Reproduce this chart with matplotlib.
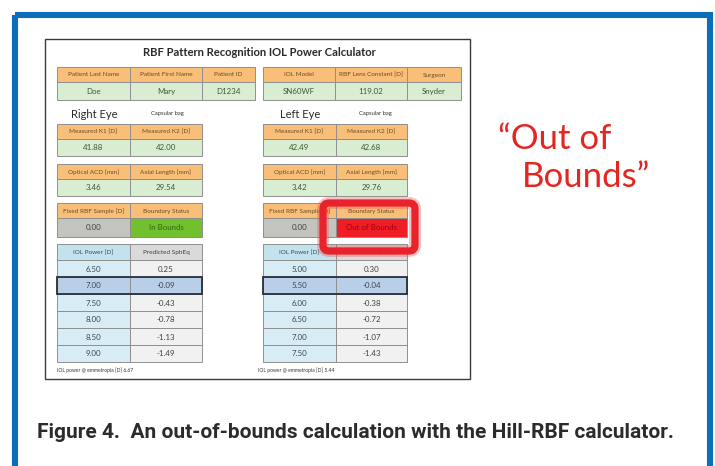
import matplotlib
matplotlib.use('Agg')
import matplotlib.pyplot as plt
from matplotlib.patches import Rectangle, FancyBboxPatch

# ---------------- data ----------------
title = "RBF Pattern Recognition IOL Power Calculator"
patient_headers = ["Patient Last Name", "Patient First Name", "Patient ID"]
patient_values = ["Doe", "Mary", "D1234"]
lens_headers = ["IOL Model", "RBF Lens Constant [D]", "Surgeon"]
lens_values = ["SN60WF", "119.02", "Snyder"]
eye_labels = ["Right Eye", "Left Eye"]
placement = "Capsular bag"
k_headers = ["Measured K1 [D]", "Measured K2 [D]"]
right_k = [41.88, 42.00]
left_k = [42.49, 42.68]
bio_headers = ["Optical ACD [mm]", "Axial Length [mm]"]
right_bio = [3.46, 29.54]
left_bio = [3.42, 29.76]
status_headers = ["Fixed RBF Sample [D]", "Boundary Status"]
fixed_rbf = [0.00, 0.00]
boundary_status = ["In Bounds", "Out of Bounds"]
iol_headers = ["IOL Power [D]", "Predicted SphEq"]
right_iol_power = [6.50, 7.00, 7.50, 8.00, 8.50, 9.00]
right_sph_eq = [0.25, -0.09, -0.43, -0.78, -1.13, -1.49]
left_iol_power = [5.00, 5.50, 6.00, 6.50, 7.00, 7.50]
left_sph_eq = [0.30, -0.04, -0.38, -0.72, -1.07, -1.43]
selected_row = [1, 1]
emmetropia = [6.67, 5.44]
callout_lines = ["\u201cOut of", "Bounds\u201d"]
caption = "Figure 4.  An out-of-bounds calculation with the Hill-RBF calculator."

# ---------------- styling ----------------
FONT = ['Lato', 'DejaVu Sans']
ORANGE = '#f9be78'
GREEN = '#d9edd2'
GREY = '#c4c4be'
INB = '#72c02e'
OUTB = '#ee1d26'
BLUEH = '#c2e3ee'
GREYH = '#dadada'
BLUEC = '#d8ecf5'
GREYC = '#f1f1f1'
SEL = '#b9cfe8'
EDGE = '#8f8f8f'
HTXT = '#6b4b22'
DTXT = '#3d5a2c'
BTXT = '#3b4654'
HFS = 4.6
DFS = 5.7

W, H = 715, 466
fig = plt.figure(figsize=(7.15, 4.66), dpi=100)
ax = fig.add_axes([0, 0, 1, 1])
ax.set_xlim(0, W)
ax.set_ylim(H, 0)
ax.axis('off')


def cell(x0, x1, y0, y1, fc, text, tc, fs, ec=EDGE, lw=0.7, z=2):
    ax.add_patch(Rectangle((x0, y0), x1 - x0, y1 - y0, facecolor=fc,
                           edgecolor=ec, lw=lw, zorder=z))
    ax.text((x0 + x1) / 2, (y0 + y1) / 2 + 0.5, text, ha='center', va='center',
            color=tc, fontsize=fs, family=FONT, zorder=z + 1)


def two_row_table(xs, y0, y1, y2, headers, values, vcolors, tcolors):
    for i, h in enumerate(headers):
        cell(xs[i], xs[i + 1], y0, y1, ORANGE, h, HTXT, HFS)
    for i, v in enumerate(values):
        cell(xs[i], xs[i + 1], y1, y2, vcolors[i], v, tcolors[i], DFS)


# blue frame
ax.add_patch(Rectangle((15, 15), 695, 520, fill=False, edgecolor='#0d6db6',
                       lw=4.4, zorder=1))

# spreadsheet box
ax.add_patch(Rectangle((45, 39), 425, 340, facecolor='white', edgecolor='#3a3a3a',
                       lw=1.0, zorder=1))
ax.text(259, 53, title, ha='center', va='center', fontsize=8.1, fontweight='bold',
        family=FONT, color='#2a2a2a')

# patient / lens tables
two_row_table([57, 130, 202, 255], 67, 82, 100, patient_headers, patient_values,
              [GREEN] * 3, [DTXT] * 3)
two_row_table([263, 335, 407, 461], 67, 82, 100, lens_headers, lens_values,
              [GREEN] * 3, [DTXT] * 3)

eye_x = [(94, 167), (300, 375)]
col_sets = [[57, 130, 202], [263, 336, 407]]
ks = [right_k, left_k]
bios = [right_bio, left_bio]
iol_p = [right_iol_power, left_iol_power]
iol_s = [right_sph_eq, left_sph_eq]
foot_x = [57, 258]

for e in range(2):
    xs = col_sets[e]
    ax.text(eye_x[e][0], 114, eye_labels[e], ha='center', va='center', fontsize=8,
            family=FONT, color='#2a2a2a')
    ax.text(eye_x[e][1], 113, placement, ha='center', va='center', fontsize=4.2,
            family=FONT, color='#333333')
    two_row_table(xs, 124, 139, 156, k_headers, [f"{v:.2f}" for v in ks[e]],
                  [GREEN] * 2, [DTXT] * 2)
    two_row_table(xs, 164, 179, 196, bio_headers, [f"{v:.2f}" for v in bios[e]],
                  [GREEN] * 2, [DTXT] * 2)
    stat_col = INB if boundary_status[e] == "In Bounds" else OUTB
    stat_txt = '#2d6a10' if boundary_status[e] == "In Bounds" else '#a3000c'
    two_row_table(xs, 203, 218, 237, status_headers,
                  [f"{fixed_rbf[e]:.2f}", boundary_status[e]],
                  [GREY, stat_col], ['#404040', stat_txt])
    # IOL table
    cell(xs[0], xs[1], 244, 260, BLUEH, iol_headers[0], BTXT, HFS)
    cell(xs[1], xs[2], 244, 260, GREYH, iol_headers[1], '#404040', HFS)
    rh = 17
    for r, (p, s) in enumerate(zip(iol_p[e], iol_s[e])):
        ya = 260 + r * rh
        if r == selected_row[e]:
            continue
        cell(xs[0], xs[1], ya, ya + rh, BLUEC, f"{p:.2f}", BTXT, DFS)
        cell(xs[1], xs[2], ya, ya + rh, GREYC, f"{s:.2f}", '#404040', DFS)
    r = selected_row[e]
    ya = 260 + r * rh
    cell(xs[0], xs[1], ya, ya + rh, SEL, f"{iol_p[e][r]:.2f}", BTXT, DFS, z=4)
    cell(xs[1], xs[2], ya, ya + rh, SEL, f"{iol_s[e][r]:.2f}", BTXT, DFS, z=4)
    ax.add_patch(Rectangle((xs[0], ya), xs[2] - xs[0], rh, fill=False,
                           edgecolor='#26303c', lw=1.3, zorder=6))
    ax.text(foot_x[e], 370, f"IOL power @ emmetropia [D] {emmetropia[e]:.2f}",
            ha='left', va='center', fontsize=3.6, family=FONT, color='#333333')

# red highlight box around out-of-bounds status
ax.add_patch(FancyBboxPatch((323, 203), 92, 48,
                            boxstyle='round,pad=0,rounding_size=6', fill=False,
                            edgecolor='#f04a4a', lw=8.5, alpha=0.35, zorder=8))
ax.add_patch(FancyBboxPatch((323, 203), 92, 48,
                            boxstyle='round,pad=0,rounding_size=6', fill=False,
                            edgecolor='#e8232b', lw=5.2, zorder=9))

# callout text
ax.text(498, 139, callout_lines[0], ha='left', va='center', fontsize=25,
        family=FONT, color='#e52521')
ax.text(522, 177, callout_lines[1], ha='left', va='center', fontsize=25,
        family=FONT, color='#e52521')

# caption, sized to span the same width as in the reference
cap = ax.text(37, 432, caption, ha='left', va='center', fontsize=14,
              fontweight='bold', family=['Roboto', 'DejaVu Sans'], color='#2b2b2b')
fig.canvas.draw()
wpx = cap.get_window_extent().width
cap.set_fontsize(14 * 636 / wpx)

fig.savefig('out.png', dpi=100, facecolor='white')
